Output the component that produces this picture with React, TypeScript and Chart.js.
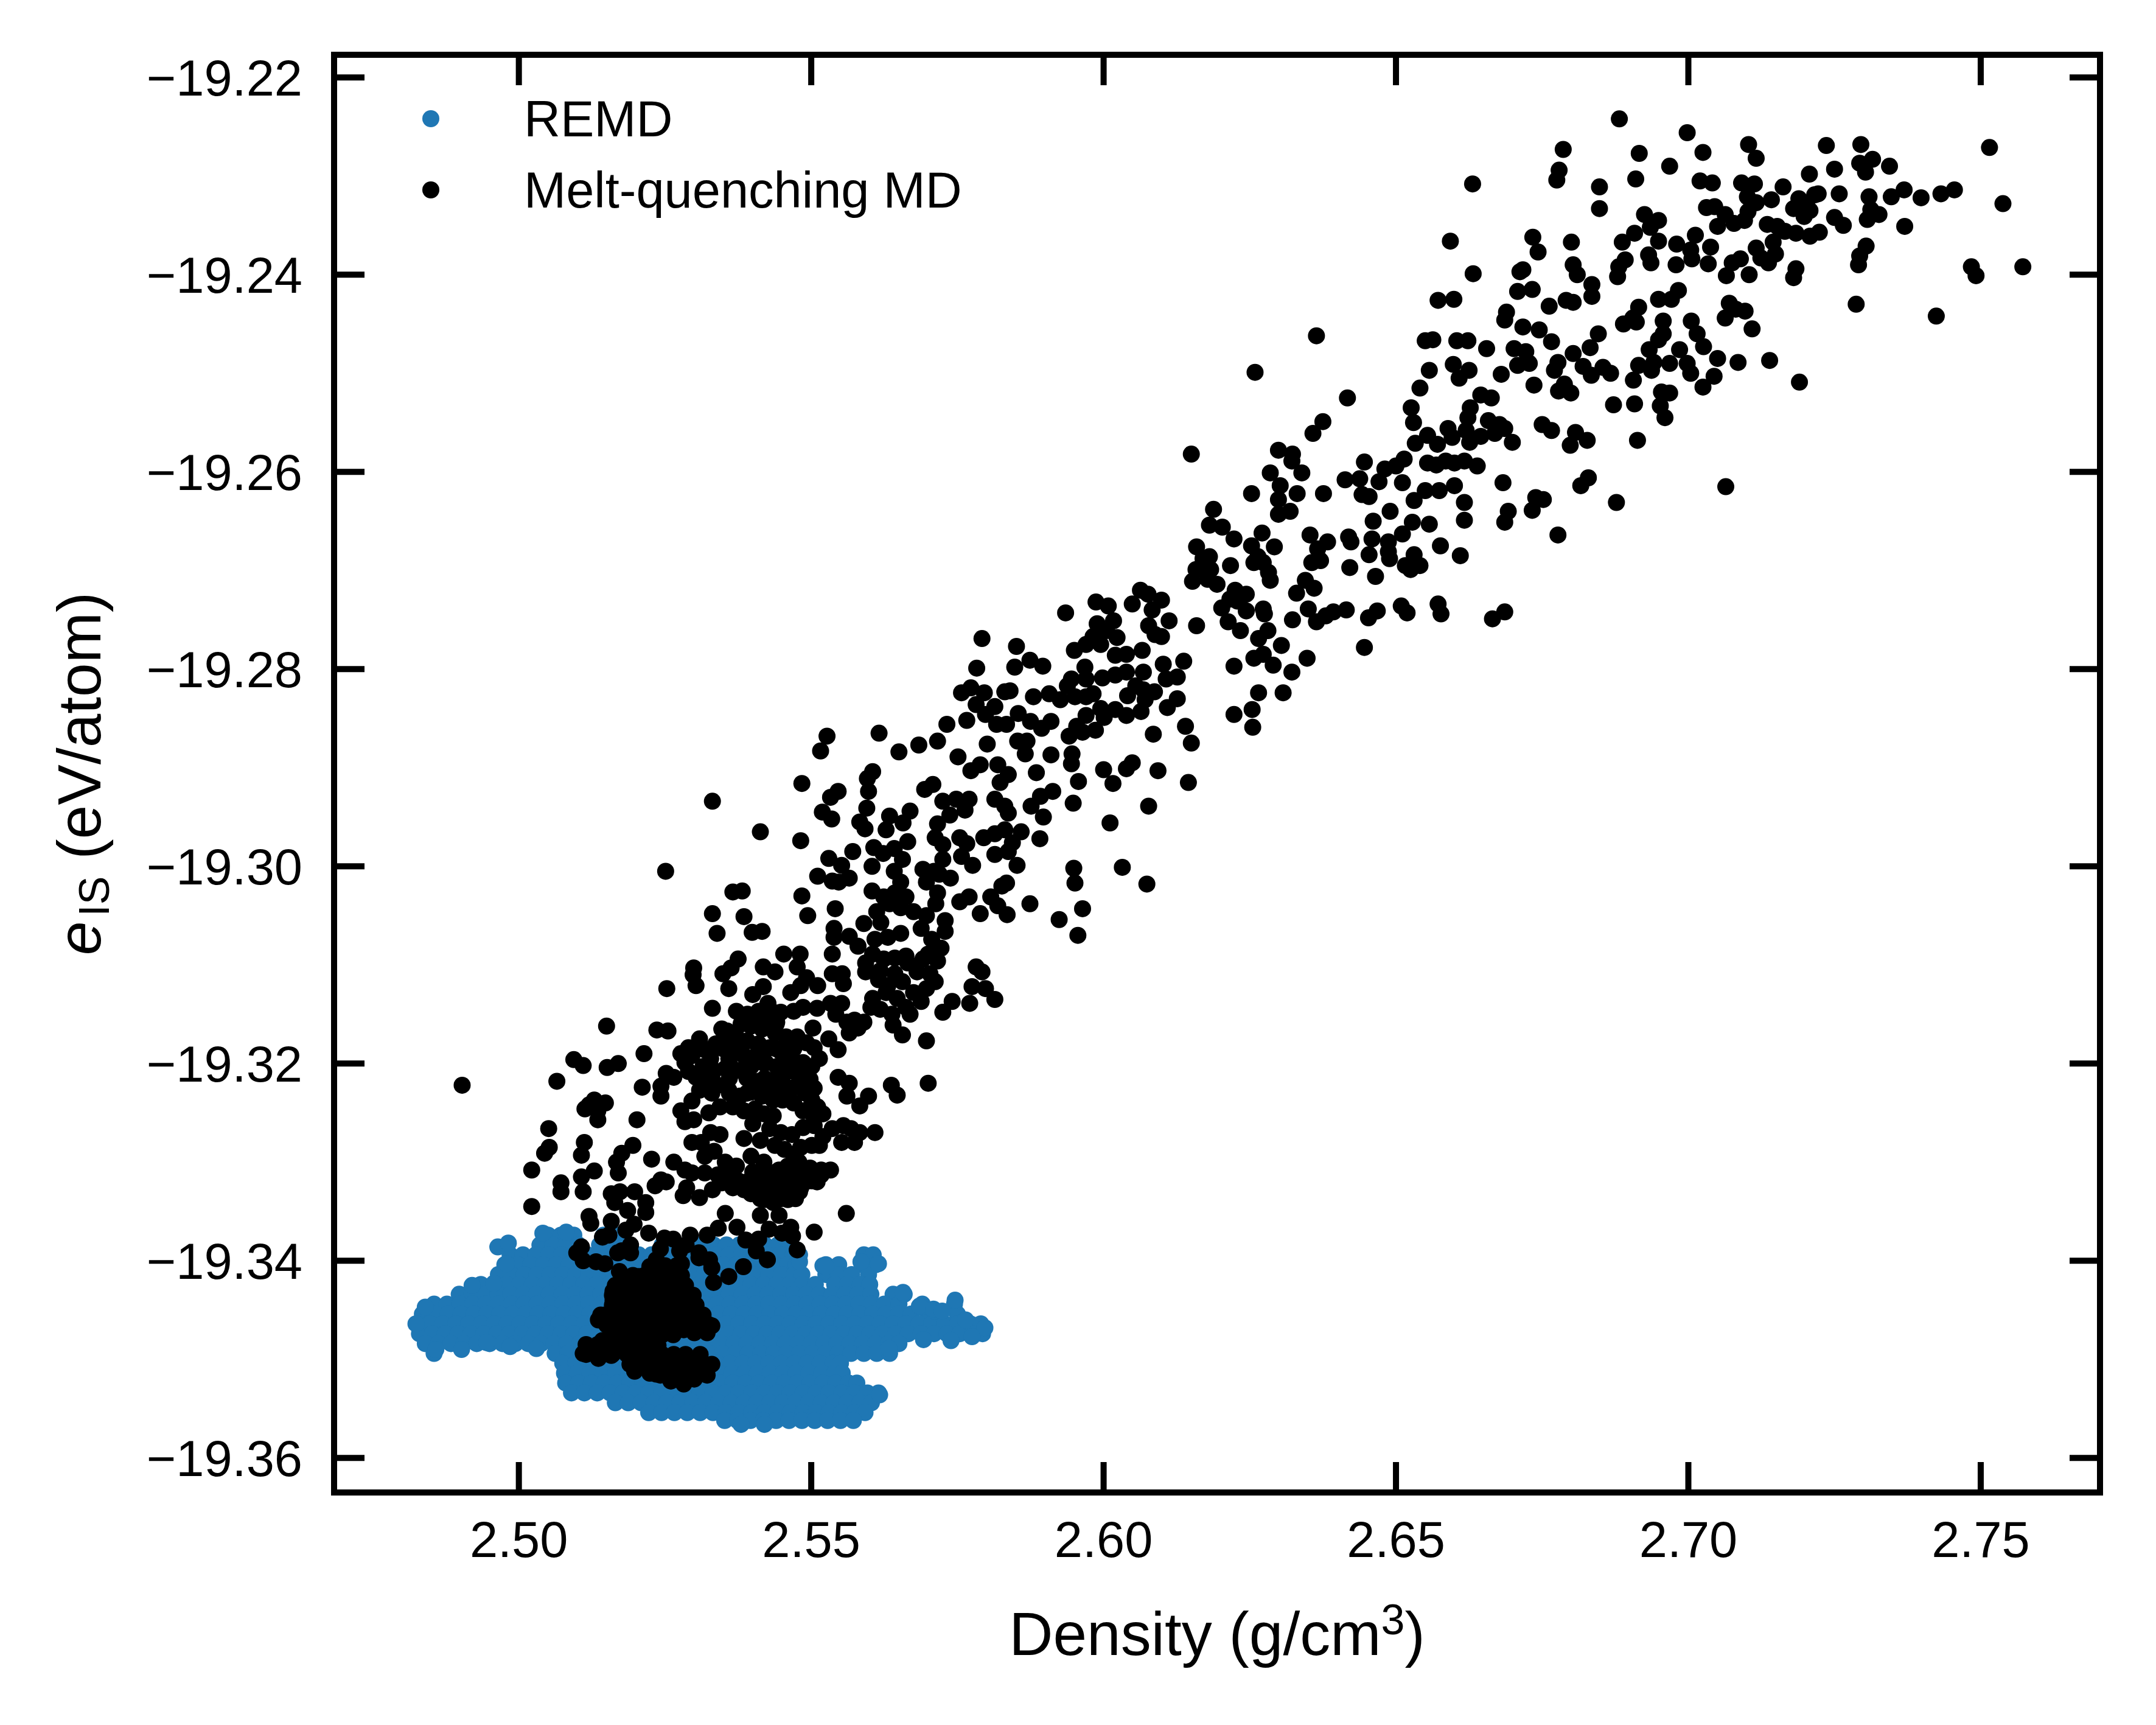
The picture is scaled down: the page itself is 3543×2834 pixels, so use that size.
import { useEffect, useRef } from 'react';
import { Chart, registerables, Plugin } from 'chart.js';

Chart.register(...registerables);

const FONT = '"Liberation Sans", Arial, sans-serif';

// axis ranges and ticks
const densityRange = [2.4684, 2.7704];
const energyRange = [-19.3635, -19.2177];
const densityTicks = [2.5, 2.55, 2.6, 2.65, 2.7, 2.75];
const energyTicks = [-19.22, -19.24, -19.26, -19.28, -19.3, -19.32, -19.34, -19.36];

// melt-quenching MD: upper right part of the band
const meltUpper: [number, number][] = [
  [2.6882,-19.2242],[2.6998,-19.2256],[2.6786,-19.2273],[2.6916,-19.2277],[2.7025,-19.2276],[2.7103,-19.2268],[2.7116,-19.2282],[2.7236,-19.2269],[2.7295,-19.2268],[2.7515,-19.2271],
  [2.6779,-19.2294],[2.6775,-19.2304],[2.6848,-19.2311],[2.6910,-19.2303],[2.6968,-19.2290],[2.7020,-19.2305],[2.7041,-19.2307],[2.7091,-19.2307],[2.7113,-19.2308],[2.7162,-19.2311],
  [2.7207,-19.2298],[2.7250,-19.2293],[2.7293,-19.2287],[2.7315,-19.2283],[2.7303,-19.2296],[2.7344,-19.2290],[2.6848,-19.2333],[2.6925,-19.2339],[2.6949,-19.2345],[2.6935,-19.2352],
  [2.7031,-19.2332],[2.7045,-19.2331],[2.7063,-19.2339],[2.7050,-19.2351],[2.7078,-19.2348],[2.7096,-19.2345],[2.7101,-19.2321],[2.7116,-19.2327],[2.7102,-19.2336],[2.7142,-19.2324],
  [2.7180,-19.2333],[2.7189,-19.2323],[2.7202,-19.2328],[2.7216,-19.2319],[2.7222,-19.2318],[2.7208,-19.2335],[2.7198,-19.2341],[2.7258,-19.2318],[2.7250,-19.2342],[2.7265,-19.2350],
  [2.7309,-19.2321],[2.7312,-19.2334],[2.7306,-19.2344],[2.7326,-19.2339],[2.7347,-19.2321],[2.7369,-19.2314],[2.7398,-19.2322],[2.7432,-19.2318],[2.7455,-19.2314],[2.7538,-19.2328],
  [2.7370,-19.2351],[2.7135,-19.2349],[2.7152,-19.2351],[2.7165,-19.2356],[2.7184,-19.2358],[2.7208,-19.2361],[2.7224,-19.2357],[2.6734,-19.2362],[2.6743,-19.2377],[2.6800,-19.2367],
  [2.6887,-19.2367],[2.6908,-19.2358],[2.6949,-19.2366],[2.6932,-19.2380],[2.6936,-19.2388],[2.6892,-19.2385],[2.6881,-19.2392],[2.6879,-19.2402],[2.6803,-19.2390],[2.6810,-19.2400],
  [2.6980,-19.2369],[2.7012,-19.2360],[2.7004,-19.2375],[2.7006,-19.2384],[2.7038,-19.2372],[2.6979,-19.2390],[2.7034,-19.2389],[2.7075,-19.2388],[2.7089,-19.2384],[2.7065,-19.2401],
  [2.7104,-19.2400],[2.7116,-19.2373],[2.7124,-19.2383],[2.7137,-19.2388],[2.7149,-19.2379],[2.7145,-19.2367],[2.7184,-19.2394],[2.7180,-19.2403],[2.7304,-19.2371],[2.7293,-19.2381],
  [2.7291,-19.2390],[2.7484,-19.2392],[2.7492,-19.2401],[2.7572,-19.2392],[2.6717,-19.2395],[2.6733,-19.2415],[2.6835,-19.2410],[2.6835,-19.2422],[2.6762,-19.2432],[2.6791,-19.2426],
  [2.6803,-19.2428],[2.6915,-19.2433],[2.6905,-19.2444],[2.6889,-19.2450],[2.6911,-19.2448],[2.6949,-19.2425],[2.6971,-19.2425],[2.6983,-19.2416],[2.6957,-19.2447],[2.6957,-19.2460],
  [2.6949,-19.2466],[2.6933,-19.2476],[2.7005,-19.2447],[2.7015,-19.2460],[2.7026,-19.2473],[2.6985,-19.2476],[2.6998,-19.2490],[2.7004,-19.2500],[2.7070,-19.2429],[2.7081,-19.2435],
  [2.7097,-19.2437],[2.7063,-19.2444],[2.7109,-19.2455],[2.7287,-19.2430],[2.7424,-19.2442],[2.6717,-19.2453],[2.6745,-19.2456],[2.6766,-19.2468],[2.6846,-19.2460],[2.6832,-19.2474],
  [2.6803,-19.2480],[2.6722,-19.2478],[2.6728,-19.2490],[2.6777,-19.2489],[2.6771,-19.2497],[2.6820,-19.2493],[2.6834,-19.2502],[2.6854,-19.2494],[2.6867,-19.2500],[2.6915,-19.2492],
  [2.6937,-19.2497],[2.6941,-19.2489],[2.6968,-19.2490],[2.6906,-19.2507],[2.7050,-19.2485],[2.7044,-19.2503],[2.7025,-19.2514],[2.7085,-19.2489],[2.7139,-19.2487],[2.7190,-19.2509],
  [2.6736,-19.2512],[2.6788,-19.2511],[2.6778,-19.2518],[2.6799,-19.2520],[2.6954,-19.2519],[2.6968,-19.2520],[2.6952,-19.2533],[2.6960,-19.2545],[2.6872,-19.2532],[2.6908,-19.2531],
  [2.6750,-19.2552],[2.6766,-19.2558],[2.6807,-19.2560],[2.6827,-19.2568],[2.6798,-19.2573],[2.6913,-19.2568],[2.6829,-19.2606],[2.6816,-19.2614],[2.7064,-19.2615],[2.6739,-19.2626],
  [2.6752,-19.2628],[2.6733,-19.2639],[2.6877,-19.2631],[2.6777,-19.2664],
  [2.6631,-19.2308],[2.6593,-19.2366],[2.6632,-19.2399],[2.6712,-19.2397],[2.6708,-19.2417],[2.6572,-19.2426],[2.6599,-19.2425],[2.6689,-19.2438],[2.6686,-19.2446],
];

// melt-quenching MD: middle of the band
const meltMiddle: [number, number][] = [
  [2.6364,-19.2462],[2.6550,-19.2467],[2.6563,-19.2466],[2.6604,-19.2467],[2.6623,-19.2467],[2.6655,-19.2475],[2.6702,-19.2475],[2.6708,-19.2492],[2.6259,-19.2499],[2.6557,-19.2497],
  [2.6598,-19.2491],[2.6625,-19.2497],[2.6608,-19.2505],[2.6680,-19.2501],[2.6541,-19.2515],[2.6417,-19.2525],[2.6645,-19.2522],[2.6663,-19.2525],[2.6627,-19.2535],[2.6623,-19.2545],
  [2.6526,-19.2535],[2.6530,-19.2550],[2.6375,-19.2549],[2.6358,-19.2561],[2.6658,-19.2548],[2.6677,-19.2552],[2.6686,-19.2556],[2.6669,-19.2561],[2.6699,-19.2570],[2.6589,-19.2556],
  [2.6596,-19.2565],[2.6620,-19.2558],[2.6626,-19.2570],[2.6645,-19.2564],[2.6554,-19.2563],[2.6571,-19.2572],[2.6533,-19.2571],[2.6150,-19.2582],[2.6299,-19.2578],[2.6323,-19.2582],
  [2.6322,-19.2589],[2.6339,-19.2601],[2.6285,-19.2601],[2.6446,-19.2590],[2.6514,-19.2587],[2.6500,-19.2594],[2.6481,-19.2597],[2.6554,-19.2591],[2.6569,-19.2593],[2.6585,-19.2589],
  [2.6600,-19.2591],[2.6617,-19.2589],[2.6639,-19.2594],[2.6413,-19.2608],[2.6438,-19.2607],[2.6471,-19.2610],[2.6511,-19.2611],[2.6683,-19.2611],[2.6600,-19.2614],[2.6253,-19.2622],
  [2.6302,-19.2614],[2.6299,-19.2628],[2.6331,-19.2622],[2.6376,-19.2622],[2.6442,-19.2623],[2.6454,-19.2625],[2.6550,-19.2619],[2.6574,-19.2619],[2.6531,-19.2629],[2.6617,-19.2631],
  [2.6490,-19.2640],[2.6299,-19.2643],[2.6319,-19.2640],[2.6188,-19.2638],[2.6181,-19.2654],[2.6203,-19.2656],[2.6461,-19.2650],[2.6528,-19.2651],[2.6557,-19.2653],[2.6617,-19.2649],
  [2.6692,-19.2640],[2.6686,-19.2651],[2.6223,-19.2668],[2.6271,-19.2662],[2.6353,-19.2664],[2.6419,-19.2666],[2.6423,-19.2671],[2.6383,-19.2671],[2.6459,-19.2668],[2.6487,-19.2671],
  [2.6487,-19.2681],[2.6489,-19.2688],[2.6511,-19.2663],[2.6159,-19.2676],[2.6253,-19.2675],[2.6292,-19.2676],[2.6366,-19.2678],[2.6576,-19.2675],[2.6181,-19.2686],[2.6170,-19.2688],
  [2.6217,-19.2695],[2.6264,-19.2686],[2.6257,-19.2692],[2.6273,-19.2692],[2.6454,-19.2684],[2.6531,-19.2684],[2.6610,-19.2685],[2.6158,-19.2699],[2.6183,-19.2699],[2.6356,-19.2692],
  [2.6371,-19.2690],[2.6421,-19.2697],[2.6516,-19.2695],[2.6525,-19.2699],[2.6541,-19.2695],[2.6152,-19.2711],[2.6178,-19.2709],[2.6194,-19.2714],[2.6282,-19.2702],[2.6285,-19.2710],
  [2.6465,-19.2706],[2.6345,-19.2710],[2.6360,-19.2718],[2.6330,-19.2723],[2.6225,-19.2720],[2.6244,-19.2724],[2.6216,-19.2729],[2.6229,-19.2731],[2.6273,-19.2739],[2.6275,-19.2744],
  [2.6244,-19.2741],[2.6202,-19.2738],[2.6213,-19.2752],[2.6234,-19.2761],[2.6159,-19.2756],[2.6323,-19.2750],[2.6350,-19.2739],[2.6364,-19.2752],[2.6380,-19.2746],[2.6393,-19.2742],
  [2.6415,-19.2740],[2.6453,-19.2748],[2.6468,-19.2741],[2.6509,-19.2736],[2.6519,-19.2743],[2.6572,-19.2734],[2.6577,-19.2744],[2.6665,-19.2749],[2.6686,-19.2742],[2.6281,-19.2761],
  [2.6265,-19.2769],[2.6304,-19.2776],[2.6446,-19.2778],[2.6223,-19.2797],[2.6257,-19.2789],[2.6273,-19.2785],[2.6290,-19.2796],[2.6322,-19.2803],[2.6348,-19.2789],[2.6265,-19.2824],
  [2.6307,-19.2824],[2.6223,-19.2846],[2.6254,-19.2841],[2.6255,-19.2859],
  [2.6063,-19.2720],[2.6076,-19.2724],[2.5987,-19.2732],[2.6008,-19.2736],[2.6049,-19.2734],[2.6099,-19.2730],[2.6083,-19.2740],[2.5935,-19.2743],[2.6112,-19.2751],[2.6077,-19.2756],
  [2.6088,-19.2765],[2.6099,-19.2767],[2.5989,-19.2754],[2.6017,-19.2751],[2.6005,-19.2761],[2.6023,-19.2768],[2.5982,-19.2767],[2.5851,-19.2777],[2.5950,-19.2781],[2.5970,-19.2775],
  [2.5995,-19.2775],[2.6066,-19.2781],[2.6020,-19.2786],[2.6039,-19.2785],[2.5874,-19.2791],[2.5896,-19.2797],[2.5848,-19.2798],[2.5968,-19.2798],[2.5970,-19.2810],[2.5998,-19.2809],
  [2.6020,-19.2806],[2.6039,-19.2803],[2.6068,-19.2803],[2.6102,-19.2795],[2.6137,-19.2792],[2.6107,-19.2810],[2.6126,-19.2808],[2.5945,-19.2810],[2.5938,-19.2817],[2.5840,-19.2822],
  [2.5880,-19.2828],[2.5907,-19.2825],[2.5926,-19.2831],[2.5951,-19.2828],[2.5970,-19.2828],[2.5982,-19.2825],[2.6041,-19.2827],[2.6055,-19.2817],[2.6068,-19.2821],[2.6087,-19.2823],
  [2.6071,-19.2831],[2.6126,-19.2830],[2.6109,-19.2839],[2.5995,-19.2840],[2.6020,-19.2841],[2.6039,-19.2847],[2.6064,-19.2843],[2.6001,-19.2849],[2.5854,-19.2845],[2.5875,-19.2853],
  [2.5894,-19.2860],[2.5910,-19.2853],[2.5834,-19.2856],[2.5970,-19.2847],[2.5954,-19.2858],[2.5964,-19.2864],[2.5986,-19.2862],[2.5941,-19.2868],[2.6140,-19.2858],[2.6085,-19.2866],
  [2.6150,-19.2875],[2.5853,-19.2873],[2.5869,-19.2873],[2.5866,-19.2886],[2.5910,-19.2887],[2.5946,-19.2886],[2.5945,-19.2896],[2.5885,-19.2905],[2.6000,-19.2902],[2.6016,-19.2916],
  [2.6039,-19.2901],[2.6049,-19.2895],[2.6093,-19.2903],[2.5957,-19.2914],[2.6145,-19.2915],[2.5837,-19.2907],[2.5913,-19.2924],[2.5892,-19.2929],[2.5876,-19.2939],[2.5897,-19.2950],
  [2.5948,-19.2936],[2.6077,-19.2939],[2.6011,-19.2956],[2.5837,-19.2946],[2.5859,-19.2965],[2.5844,-19.2976],[2.5891,-19.2972],[2.5852,-19.2999],[2.5837,-19.2985],[2.5949,-19.3002],
  [2.5951,-19.3017],[2.6032,-19.3001],[2.6074,-19.3018],[2.5874,-19.3038],[2.5964,-19.3043],[2.5834,-19.3017],
  [2.5956,-19.3070],[2.5924,-19.3054],[2.5835,-19.3049],
];

// melt-quenching MD: lower left part of the band
const meltLower: [number, number][] = [
  [2.5792,-19.2769],[2.5783,-19.2799],[2.5757,-19.2824],[2.5773,-19.2819],[2.5796,-19.2824],[2.5782,-19.2836],[2.5814,-19.2838],[2.5798,-19.2846],[2.5766,-19.2852],[2.5817,-19.2856],
  [2.5831,-19.2823],[2.5732,-19.2856],[2.5801,-19.2876],[2.5716,-19.2873],[2.5684,-19.2877],[2.5650,-19.2884],[2.5616,-19.2865],[2.5527,-19.2868],[2.5516,-19.2883],[2.5751,-19.2889],
  [2.5789,-19.2897],[2.5773,-19.2903],[2.5819,-19.2897],[2.5823,-19.2915],[2.5484,-19.2916],[2.5605,-19.2904],[2.5596,-19.2911],[2.5598,-19.2924],[2.5546,-19.2924],[2.5533,-19.2930],
  [2.5694,-19.2922],[2.5708,-19.2917],[2.5725,-19.2934],[2.5748,-19.2932],[2.5770,-19.2932],[2.5763,-19.2943],[2.5737,-19.2948],[2.5814,-19.2932],[2.5831,-19.2939],[2.5331,-19.2934],
  [2.5413,-19.2965],[2.5482,-19.2974],[2.5519,-19.2945],[2.5535,-19.2952],[2.5595,-19.2941],[2.5583,-19.2955],[2.5592,-19.2962],[2.5634,-19.2949],[2.5657,-19.2956],[2.5669,-19.2944],
  [2.5628,-19.2963],[2.5665,-19.2975],[2.5716,-19.2957],[2.5712,-19.2971],[2.5725,-19.2978],[2.5754,-19.2971],[2.5766,-19.2977],[2.5795,-19.2971],[2.5814,-19.2967],[2.5831,-19.2963],
  [2.5814,-19.2988],[2.5757,-19.2990],[2.5776,-19.2999],[2.5725,-19.2993],[2.5738,-19.3012],[2.5719,-19.3008],[2.5691,-19.3003],[2.5697,-19.3016],[2.5710,-19.3005],[2.5571,-19.2985],
  [2.5607,-19.2981],[2.5623,-19.2987],[2.5642,-19.2982],[2.5656,-19.2993],[2.5530,-19.2992],[2.5552,-19.2999],[2.5604,-19.3000],[2.5642,-19.3005],[2.5653,-19.3016],[2.5511,-19.3010],
  [2.5536,-19.3015],[2.5547,-19.3016],[2.5565,-19.3012],[2.5604,-19.3025],[2.5624,-19.3031],[2.5643,-19.3027],[2.5662,-19.3031],[2.5634,-19.3038],[2.5653,-19.3042],[2.5675,-19.3046],
  [2.5697,-19.3050],[2.5713,-19.3038],[2.5729,-19.3055],[2.5716,-19.3027],[2.5754,-19.3036],[2.5770,-19.3031],[2.5789,-19.3048],[2.5807,-19.3031],[2.5826,-19.3020],[2.5819,-19.3040],
  [2.5251,-19.3005],[2.5366,-19.3026],[2.5382,-19.3025],[2.5484,-19.3030],[2.5541,-19.3043],[2.5494,-19.3050],[2.5331,-19.3048],[2.5385,-19.3051],[2.5339,-19.3068],[2.5399,-19.3067],
  [2.5416,-19.3066],[2.5539,-19.3063],[2.5590,-19.3058],[2.5612,-19.3046],[2.5619,-19.3057],[2.5609,-19.3074],[2.5631,-19.3072],[2.5653,-19.3068],[2.5688,-19.3063],[2.5706,-19.3074],
  [2.5729,-19.3066],[2.5722,-19.3083],[2.5700,-19.3089],[2.5716,-19.3096],[2.5539,-19.3072],[2.5565,-19.3071],[2.5536,-19.3089],[2.5580,-19.3081],[2.5605,-19.3089],[2.5624,-19.3094],
  [2.5643,-19.3093],[2.5662,-19.3091],[2.5593,-19.3098],[2.5593,-19.3107],[2.5618,-19.3106],[2.5643,-19.3109],[2.5665,-19.3098],[2.5691,-19.3094],[2.5681,-19.3107],[2.5703,-19.3109],
  [2.5712,-19.3117],[2.5697,-19.3124],[2.5675,-19.3128],[2.5656,-19.3117],[2.5631,-19.3121],[2.5615,-19.3115],[2.5628,-19.3128],[2.5647,-19.3134],[2.5662,-19.3143],[2.5688,-19.3137],
  [2.5782,-19.3102],[2.5792,-19.3107],[2.5775,-19.3122],[2.5798,-19.3124],[2.5814,-19.3135],[2.5771,-19.3139],[2.5741,-19.3137],[2.5725,-19.3148],[2.5697,-19.3177],[2.5700,-19.3220],
  [2.5453,-19.3089],[2.5481,-19.3089],[2.5476,-19.3102],[2.5418,-19.3102],[2.5438,-19.3107],[2.5536,-19.3109],[2.5553,-19.3109],[2.5555,-19.3119],[2.5511,-19.3121],[2.5492,-19.3113],
  [2.5482,-19.3121],[2.5465,-19.3128],[2.5375,-19.3094],[2.5363,-19.3103],[2.5349,-19.3109],[2.5359,-19.3124],[2.5299,-19.3103],[2.5298,-19.3110],[2.5303,-19.3121],[2.5253,-19.3124],
  [2.5331,-19.3144],[2.5400,-19.3130],[2.5418,-19.3122],[2.5429,-19.3145],[2.5448,-19.3148],[2.5470,-19.3147],[2.5486,-19.3143],[2.5510,-19.3144],[2.5533,-19.3139],[2.5552,-19.3139],
  [2.5542,-19.3150],[2.5561,-19.3158],[2.5574,-19.3156],[2.5590,-19.3158],[2.5605,-19.3134],[2.5602,-19.3143],[2.5618,-19.3145],[2.5638,-19.3150],[2.5640,-19.3161],[2.5656,-19.3171],
  [2.5669,-19.3150],[2.5503,-19.3164],[2.5530,-19.3175],[2.5546,-19.3186],[2.5565,-19.3169],[2.5580,-19.3164],[2.5150,-19.3162],[2.5236,-19.3166],[2.5255,-19.3167],[2.5214,-19.3190],
  [2.5094,-19.3196],[2.5110,-19.3202],[2.5151,-19.3204],[2.5170,-19.3200],[2.5065,-19.3218],[2.4903,-19.3222],[2.5211,-19.3224],[2.5243,-19.3223],[2.5252,-19.3210],[2.5265,-19.3214],
  [2.5243,-19.3233],[2.5372,-19.3147],[2.5391,-19.3150],[2.5410,-19.3147],[2.5426,-19.3139],[2.5441,-19.3158],[2.5397,-19.3162],[2.5416,-19.3165],[2.5438,-19.3169],[2.5457,-19.3173],
  [2.5476,-19.3173],[2.5492,-19.3179],[2.5505,-19.3184],[2.5514,-19.3195],[2.5501,-19.3203],[2.5486,-19.3199],[2.5467,-19.3195],[2.5448,-19.3188],[2.5429,-19.3184],[2.5410,-19.3180],
  [2.5391,-19.3177],[2.5372,-19.3173],[2.5356,-19.3167],[2.5347,-19.3165],[2.5309,-19.3175],[2.5290,-19.3184],[2.5277,-19.3190],[2.5296,-19.3192],[2.5318,-19.3186],[2.5337,-19.3180],
  [2.5353,-19.3179],[2.5369,-19.3186],[2.5385,-19.3192],[2.5404,-19.3195],[2.5422,-19.3199],[2.5441,-19.3203],[2.5460,-19.3208],[2.5479,-19.3212],[2.5498,-19.3216],[2.5505,-19.3225],
  [2.5501,-19.3237],[2.5511,-19.3244],[2.5520,-19.3251],[2.5505,-19.3255],[2.5486,-19.3248],[2.5470,-19.3240],[2.5451,-19.3237],[2.5435,-19.3237],[2.5416,-19.3233],[2.5397,-19.3229],
  [2.5378,-19.3233],[2.5359,-19.3227],[2.5340,-19.3222],[2.5322,-19.3218],[2.5303,-19.3214],[2.5290,-19.3208],[2.5284,-19.3199],[2.5315,-19.3203],[2.5334,-19.3207],[2.5353,-19.3205],
  [2.5372,-19.3207],[2.5391,-19.3212],[2.5410,-19.3218],[2.5429,-19.3223],[2.5448,-19.3225],[2.5467,-19.3225],[2.5486,-19.3225],[2.5438,-19.3216],[2.5397,-19.3203],[2.5359,-19.3195],
  [2.5328,-19.3195],[2.5309,-19.3227],[2.5296,-19.3238],[2.5277,-19.3248],[2.5284,-19.3259],[2.5299,-19.3257],[2.5325,-19.3250],[2.5344,-19.3244],[2.5366,-19.3244],[2.5385,-19.3248],
  [2.5404,-19.3246],[2.5419,-19.3251],[2.5435,-19.3253],[2.5429,-19.3266],[2.5448,-19.3270],[2.5467,-19.3272],[2.5486,-19.3265],[2.5505,-19.3263],[2.5520,-19.3274],[2.5514,-19.3283],
  [2.5501,-19.3283],[2.5482,-19.3285],[2.5470,-19.3293],[2.5454,-19.3287],[2.5438,-19.3283],[2.5413,-19.3278],[2.5400,-19.3261],[2.5385,-19.3276],[2.5397,-19.3294],[2.5419,-19.3300],
  [2.5445,-19.3308],[2.5460,-19.3304],[2.5479,-19.3300],[2.5498,-19.3306],[2.5517,-19.3308],[2.5533,-19.3308],[2.5473,-19.3317],[2.5457,-19.3321],[2.5441,-19.3326],[2.5429,-19.3332],
  [2.5448,-19.3337],[2.5467,-19.3332],[2.5482,-19.3326],[2.5501,-19.3319],[2.5517,-19.3313],[2.5473,-19.3337],[2.5435,-19.3341],[2.5413,-19.3337],[2.5397,-19.3332],[2.5385,-19.3328],
  [2.5375,-19.3319],[2.5359,-19.3311],[2.5353,-19.3300],[2.5372,-19.3304],[2.5334,-19.3289],[2.5318,-19.3294],[2.5312,-19.3280],[2.5296,-19.3280],[2.5328,-19.3270],[2.5344,-19.3272],
  [2.5284,-19.3308],[2.5296,-19.3311],[2.5318,-19.3311],[2.5340,-19.3313],[2.5366,-19.3326],[2.5287,-19.3326],[2.5309,-19.3336],[2.5331,-19.3328],[2.5347,-19.3321],[2.5265,-19.3300],
  [2.5252,-19.3320],[2.5233,-19.3324],[2.5243,-19.3318],[2.5227,-19.3297],[2.5195,-19.3283],[2.5176,-19.3291],[2.5167,-19.3300],[2.5170,-19.3311],[2.5129,-19.3309],[2.5107,-19.3315],
  [2.5110,-19.3330],[2.5072,-19.3321],[2.5072,-19.3330],[2.5022,-19.3308],[2.5044,-19.3291],[2.5052,-19.3285],[2.5051,-19.3266],[2.5112,-19.3280],[2.5107,-19.3293],[2.5202,-19.3257],
  [2.5158,-19.3332],[2.5173,-19.3330],[2.5198,-19.3330],[2.5164,-19.3341],[2.5186,-19.3349],[2.5217,-19.3341],[2.5217,-19.3351],[2.5281,-19.3334],[2.5022,-19.3345],[2.5120,-19.3355],
  [2.5353,-19.3352],[2.5413,-19.3354],[2.5445,-19.3354],[2.5560,-19.3352],
  [2.5536,-19.3266],[2.5555,-19.3263],[2.5568,-19.3266],[2.5583,-19.3270],[2.5609,-19.3270],[2.5574,-19.3280],[2.5552,-19.3280],[2.5546,-19.3214],[2.5565,-19.3220],[2.5561,-19.3233],
  [2.5583,-19.3243],[2.5598,-19.3233],[2.5637,-19.3222],[2.5647,-19.3232],
  [2.5129,-19.3237],[2.5120,-19.3242],[2.5135,-19.3248],[2.5148,-19.3240],[2.5135,-19.3257],[2.5113,-19.3246],
];

// melt-quenching MD: points sitting on the REMD cloud
const meltBase: [number, number][] = [
  [2.5123,-19.3362],[2.5158,-19.3360],[2.5197,-19.3363],[2.5222,-19.3372],[2.5154,-19.3374],[2.5143,-19.3376],[2.5183,-19.3369],[2.5191,-19.3384],[2.5176,-19.3390],[2.5191,-19.3392],
  [2.5107,-19.3386],[2.5099,-19.3392],[2.5110,-19.3400],[2.5132,-19.3401],[2.5147,-19.3403],[2.5172,-19.3411],[2.5169,-19.3392],[2.5205,-19.3416],[2.5220,-19.3425],[2.5249,-19.3377],
  [2.5264,-19.3378],[2.5293,-19.3374],[2.5286,-19.3384],[2.5275,-19.3390],[2.5308,-19.3392],[2.5322,-19.3374],[2.5341,-19.3367],[2.5373,-19.3366],[2.5388,-19.3379],[2.5410,-19.3378],
  [2.5406,-19.3390],[2.5428,-19.3368],[2.5450,-19.3372],[2.5465,-19.3366],[2.5468,-19.3375],[2.5476,-19.3389],[2.5505,-19.3371],[2.5425,-19.3399],[2.5384,-19.3406],[2.5359,-19.3416],
  [2.5333,-19.3422],[2.5330,-19.3407],[2.5326,-19.3399],[2.5308,-19.3397],[2.5242,-19.3388],[2.5235,-19.3399],[2.5224,-19.3406],[2.5253,-19.3411],[2.5278,-19.3403],[2.5264,-19.3418],
  [2.5249,-19.3425],[2.5275,-19.3427],[2.5286,-19.3436],[2.5297,-19.3447],[2.5278,-19.3455],[2.5256,-19.3447],[2.5238,-19.3438],[2.5220,-19.3434],[2.5205,-19.3427],[2.5180,-19.3427],
  [2.5161,-19.3431],[2.5161,-19.3440],[2.5176,-19.3447],[2.5194,-19.3438],[2.5213,-19.3447],[2.5147,-19.3455],[2.5136,-19.3460],[2.5169,-19.3460],[2.5191,-19.3455],[2.5220,-19.3455],
  [2.5242,-19.3460],[2.5264,-19.3455],[2.5293,-19.3457],[2.5315,-19.3462],[2.5330,-19.3466],[2.5322,-19.3473],[2.5300,-19.3473],[2.5282,-19.3470],[2.5264,-19.3475],[2.5242,-19.3468],
  [2.5213,-19.3466],[2.5191,-19.3468],[2.5176,-19.3477],[2.5191,-19.3483],[2.5213,-19.3481],[2.5238,-19.3486],[2.5161,-19.3486],[2.5143,-19.3481],[2.5125,-19.3488],[2.5110,-19.3494],
  [2.5136,-19.3499],[2.5158,-19.3496],[2.5187,-19.3494],[2.5205,-19.3496],[2.5194,-19.3505],[2.5198,-19.3512],[2.5220,-19.3509],[2.5242,-19.3501],[2.5264,-19.3499],[2.5286,-19.3499],
  [2.5308,-19.3505],[2.5322,-19.3509],[2.5322,-19.3516],[2.5300,-19.3520],[2.5282,-19.3525],[2.5260,-19.3522],[2.5242,-19.3516],[2.5249,-19.3509],[2.5224,-19.3514],
];

// melt-quenching MD: solid clumps where the markers pile up
const meltCore: [number, number][] = [
  [2.5230,-19.3405],[2.5250,-19.3405],[2.5270,-19.3405],
  [2.5195,-19.3415],[2.5215,-19.3415],[2.5235,-19.3415],[2.5255,-19.3415],[2.5278,-19.3415],
  [2.5165,-19.3425],[2.5185,-19.3425],[2.5205,-19.3425],[2.5225,-19.3425],[2.5245,-19.3425],[2.5265,-19.3425],[2.5285,-19.3425],
  [2.5160,-19.3435],[2.5180,-19.3435],[2.5200,-19.3435],[2.5220,-19.3435],[2.5240,-19.3435],[2.5260,-19.3435],[2.5280,-19.3435],[2.5298,-19.3435],
  [2.5160,-19.3445],[2.5180,-19.3445],[2.5200,-19.3445],[2.5220,-19.3445],[2.5240,-19.3445],[2.5260,-19.3445],[2.5280,-19.3445],[2.5303,-19.3445],
  [2.5140,-19.3455],[2.5160,-19.3455],[2.5180,-19.3455],[2.5200,-19.3455],[2.5220,-19.3455],[2.5240,-19.3455],[2.5260,-19.3455],[2.5280,-19.3455],[2.5300,-19.3455],[2.5315,-19.3455],
  [2.5150,-19.3465],[2.5170,-19.3465],[2.5190,-19.3465],[2.5210,-19.3465],[2.5230,-19.3465],[2.5250,-19.3465],[2.5270,-19.3465],[2.5290,-19.3465],[2.5310,-19.3465],[2.5325,-19.3465],
  [2.5160,-19.3475],[2.5180,-19.3475],[2.5200,-19.3475],[2.5222,-19.3475],[2.5245,-19.3475],
  [2.5115,-19.3485],[2.5135,-19.3485],[2.5155,-19.3485],[2.5175,-19.3485],[2.5195,-19.3485],[2.5215,-19.3485],[2.5230,-19.3485],
  [2.5115,-19.3495],[2.5140,-19.3495],[2.5160,-19.3495],[2.5185,-19.3495],[2.5205,-19.3495],[2.5225,-19.3495],[2.5245,-19.3495],[2.5265,-19.3495],[2.5285,-19.3495],[2.5310,-19.3495],
  [2.5190,-19.3505],[2.5210,-19.3505],[2.5230,-19.3505],[2.5250,-19.3505],[2.5270,-19.3505],[2.5290,-19.3505],[2.5310,-19.3505],[2.5330,-19.3505],
  [2.5235,-19.3515],[2.5255,-19.3515],[2.5275,-19.3515],[2.5295,-19.3515],[2.5318,-19.3515],
  [2.5400,-19.3310],[2.5420,-19.3310],[2.5440,-19.3310],[2.5460,-19.3310],[2.5480,-19.3310],[2.5500,-19.3310],
  [2.5390,-19.3320],[2.5410,-19.3320],[2.5430,-19.3320],[2.5450,-19.3320],[2.5470,-19.3320],[2.5490,-19.3320],[2.5510,-19.3320],
  [2.5400,-19.3330],[2.5420,-19.3330],[2.5440,-19.3330],[2.5460,-19.3330],[2.5480,-19.3330],
  [2.5420,-19.3338],[2.5440,-19.3338],[2.5460,-19.3338],
  [2.5380,-19.3160],[2.5400,-19.3160],[2.5420,-19.3160],[2.5440,-19.3160],
  [2.5350,-19.3185],[2.5380,-19.3185],[2.5410,-19.3185],[2.5440,-19.3185],[2.5470,-19.3185],
  [2.5360,-19.3200],[2.5390,-19.3200],[2.5420,-19.3200],[2.5450,-19.3200],[2.5480,-19.3200],
  [2.5330,-19.3215],[2.5360,-19.3215],[2.5390,-19.3215],[2.5420,-19.3215],[2.5450,-19.3215],[2.5480,-19.3215],
  [2.5330,-19.3230],[2.5360,-19.3230],[2.5390,-19.3230],[2.5420,-19.3230],[2.5460,-19.3230],[2.5490,-19.3230],
];

// REMD cloud, read row by row: [energy, densities along that row]
const remdRows: [number, number[]][] = [
  [-19.3374, [2.5050, 2.5072, 2.5094, 2.5145, 2.5167]],
  [-19.3384, [2.5036, 2.5058, 2.5080, 2.5102, 2.5138, 2.5160, 2.5182, 2.5245, 2.5267, 2.5289, 2.5311, 2.5333, 2.5355, 2.5377, 2.5399, 2.5421, 2.5443, 2.5462]],
  [-19.3394, [2.4985, 2.5007, 2.5029, 2.5051, 2.5073, 2.5095, 2.5117, 2.5139, 2.5161, 2.5183, 2.5205, 2.5227, 2.5249, 2.5271, 2.5293, 2.5315, 2.5337, 2.5359, 2.5381, 2.5403, 2.5425, 2.5447, 2.5469, 2.5480, 2.5590, 2.5606]],
  [-19.3404, [2.4976, 2.4998, 2.5020, 2.5042, 2.5064, 2.5086, 2.5108, 2.5130, 2.5152, 2.5174, 2.5196, 2.5218, 2.5240, 2.5262, 2.5284, 2.5306, 2.5328, 2.5350, 2.5372, 2.5394, 2.5416, 2.5438, 2.5460, 2.5474, 2.5525, 2.5547, 2.5588, 2.5610]],
  [-19.3414, [2.4965, 2.4987, 2.5009, 2.5031, 2.5053, 2.5075, 2.5097, 2.5119, 2.5141, 2.5163, 2.5185, 2.5207, 2.5229, 2.5251, 2.5273, 2.5295, 2.5317, 2.5339, 2.5361, 2.5383, 2.5405, 2.5427, 2.5449, 2.5471, 2.5484, 2.5525, 2.5547, 2.5569, 2.5598]],
  [-19.3424, [2.4935, 2.4957, 2.4979, 2.5001, 2.5023, 2.5045, 2.5067, 2.5089, 2.5111, 2.5133, 2.5155, 2.5177, 2.5199, 2.5221, 2.5243, 2.5265, 2.5287, 2.5309, 2.5331, 2.5353, 2.5375, 2.5397, 2.5419, 2.5441, 2.5463, 2.5485, 2.5507, 2.5540, 2.5562, 2.5584, 2.5600]],
  [-19.3434, [2.4898, 2.4920, 2.4942, 2.4964, 2.4986, 2.5008, 2.5030, 2.5052, 2.5074, 2.5096, 2.5118, 2.5140, 2.5162, 2.5184, 2.5206, 2.5228, 2.5250, 2.5272, 2.5294, 2.5316, 2.5338, 2.5360, 2.5382, 2.5404, 2.5426, 2.5448, 2.5470, 2.5492, 2.5514, 2.5536, 2.5558, 2.5580, 2.5602, 2.5640]],
  [-19.3444, [2.4855, 2.4877, 2.4899, 2.4921, 2.4943, 2.4965, 2.4987, 2.5009, 2.5031, 2.5053, 2.5075, 2.5097, 2.5119, 2.5141, 2.5163, 2.5185, 2.5207, 2.5229, 2.5251, 2.5273, 2.5295, 2.5317, 2.5339, 2.5361, 2.5383, 2.5405, 2.5427, 2.5449, 2.5471, 2.5493, 2.5515, 2.5537, 2.5559, 2.5581, 2.5603, 2.5625, 2.5650, 2.5690, 2.5745]],
  [-19.3454, [2.4835, 2.4857, 2.4879, 2.4901, 2.4923, 2.4945, 2.4967, 2.4989, 2.5011, 2.5033, 2.5055, 2.5077, 2.5099, 2.5121, 2.5143, 2.5165, 2.5187, 2.5209, 2.5231, 2.5253, 2.5275, 2.5297, 2.5319, 2.5341, 2.5363, 2.5385, 2.5407, 2.5429, 2.5451, 2.5473, 2.5495, 2.5517, 2.5539, 2.5561, 2.5583, 2.5605, 2.5627, 2.5649, 2.5671, 2.5700, 2.5750]],
  [-19.3464, [2.4826, 2.4848, 2.4870, 2.4892, 2.4914, 2.4936, 2.4958, 2.4980, 2.5002, 2.5024, 2.5046, 2.5068, 2.5090, 2.5112, 2.5134, 2.5156, 2.5178, 2.5200, 2.5222, 2.5244, 2.5266, 2.5288, 2.5310, 2.5332, 2.5354, 2.5376, 2.5398, 2.5420, 2.5442, 2.5464, 2.5486, 2.5508, 2.5530, 2.5552, 2.5574, 2.5596, 2.5618, 2.5640, 2.5662, 2.5684, 2.5706, 2.5728, 2.5750, 2.5772, 2.5790]],
  [-19.3474, [2.4830, 2.4852, 2.4874, 2.4896, 2.4918, 2.4940, 2.4962, 2.4984, 2.5006, 2.5028, 2.5050, 2.5072, 2.5094, 2.5116, 2.5138, 2.5160, 2.5182, 2.5204, 2.5226, 2.5248, 2.5270, 2.5292, 2.5314, 2.5336, 2.5358, 2.5380, 2.5402, 2.5424, 2.5446, 2.5468, 2.5490, 2.5512, 2.5534, 2.5556, 2.5578, 2.5600, 2.5622, 2.5644, 2.5666, 2.5688, 2.5710, 2.5732, 2.5754, 2.5776, 2.5793]],
  [-19.3484, [2.4840, 2.4862, 2.4884, 2.4906, 2.4928, 2.4950, 2.4972, 2.4994, 2.5016, 2.5038, 2.5060, 2.5082, 2.5104, 2.5126, 2.5148, 2.5170, 2.5192, 2.5214, 2.5236, 2.5258, 2.5280, 2.5302, 2.5324, 2.5346, 2.5368, 2.5390, 2.5412, 2.5434, 2.5456, 2.5478, 2.5500, 2.5522, 2.5544, 2.5566, 2.5588, 2.5610, 2.5632, 2.5650]],
  [-19.3494, [2.5062, 2.5084, 2.5106, 2.5128, 2.5150, 2.5172, 2.5194, 2.5216, 2.5238, 2.5260, 2.5282, 2.5304, 2.5326, 2.5348, 2.5370, 2.5392, 2.5414, 2.5436, 2.5458, 2.5480, 2.5502, 2.5524, 2.5546, 2.5568, 2.5590, 2.5612, 2.5634]],
  [-19.3504, [2.5075, 2.5097, 2.5119, 2.5141, 2.5163, 2.5185, 2.5207, 2.5229, 2.5251, 2.5273, 2.5295, 2.5317, 2.5339, 2.5361, 2.5383, 2.5405, 2.5427, 2.5449, 2.5471, 2.5493, 2.5515, 2.5537, 2.5550]],
  [-19.3514, [2.5078, 2.5100, 2.5122, 2.5144, 2.5166, 2.5188, 2.5210, 2.5232, 2.5254, 2.5276, 2.5298, 2.5320, 2.5342, 2.5364, 2.5386, 2.5408, 2.5430, 2.5452, 2.5474, 2.5496, 2.5518, 2.5540, 2.5553]],
  [-19.3524, [2.5080, 2.5102, 2.5124, 2.5146, 2.5168, 2.5190, 2.5212, 2.5234, 2.5256, 2.5278, 2.5300, 2.5322, 2.5344, 2.5366, 2.5388, 2.5410, 2.5432, 2.5454, 2.5476, 2.5498, 2.5520, 2.5542, 2.5564, 2.5578]],
  [-19.3534, [2.5090, 2.5112, 2.5134, 2.5156, 2.5178, 2.5200, 2.5222, 2.5244, 2.5266, 2.5288, 2.5310, 2.5332, 2.5354, 2.5376, 2.5398, 2.5420, 2.5442, 2.5464, 2.5486, 2.5508, 2.5530, 2.5552, 2.5574, 2.5596, 2.5615]],
  [-19.3544, [2.5165, 2.5187, 2.5209, 2.5231, 2.5253, 2.5275, 2.5297, 2.5319, 2.5341, 2.5363, 2.5385, 2.5407, 2.5429, 2.5451, 2.5473, 2.5495, 2.5517, 2.5539, 2.5561, 2.5583, 2.5603]],
  [-19.3554, [2.5222, 2.5244, 2.5266, 2.5288, 2.5310, 2.5332, 2.5354, 2.5376, 2.5398, 2.5420, 2.5442, 2.5464, 2.5486, 2.5508, 2.5530, 2.5552, 2.5574, 2.5592]],
  [-19.3562, [2.5352, 2.5374, 2.5396, 2.5418, 2.5440, 2.5462, 2.5484, 2.5506, 2.5528, 2.5550, 2.5572]],
];

// REMD stragglers around the edge of the cloud
const remdEdge: [number, number][] = [
  [2.4964,-19.3386],[2.4982,-19.3382],[2.5041,-19.3372],[2.5081,-19.3371],[2.4979,-19.3403],[2.4957,-19.3423],[2.4920,-19.3425],
  [2.4840,-19.3447],[2.4824,-19.3464],[2.4855,-19.3494],[2.4902,-19.3490],[2.4858,-19.3490],[2.4945,-19.3483],[2.4985,-19.3487],[2.5030,-19.3489],
  [2.5688,-19.3447],[2.5710,-19.3451],[2.5746,-19.3440],[2.5764,-19.3460],[2.5797,-19.3468],[2.5775,-19.3477],[2.5739,-19.3481],[2.5692,-19.3480],
  [2.5659,-19.3434],[2.5585,-19.3401],[2.5615,-19.3403],[2.5520,-19.3405],[2.5480,-19.3401],
  [2.5525,-19.3406],[2.5657,-19.3432],[2.5685,-19.3446],[2.5709,-19.3449],[2.5724,-19.3451],[2.5633,-19.3489],[2.5617,-19.3536],
  [2.5380,-19.3566],[2.5420,-19.3566],
];

const meltPoints = [...meltUpper, ...meltMiddle, ...meltLower, ...meltBase, ...meltCore];
const remdPoints: [number, number][] = [
  ...remdRows.flatMap(([e, ds]) => ds.map((d) => [d, e] as [number, number])),
  ...remdEdge,
];

const REMD_COLOR = '#1f77b4';
const MELT_COLOR = '#000000';

const fmtTick = (v: number) => (v < 0 ? '\u2212' + Math.abs(v).toFixed(2) : v.toFixed(2));

// frame, inward ticks, tick labels, axis titles and legend, drawn like matplotlib
const axesPlugin: Plugin = {
  id: 'axesDecor',
  afterDatasetsDraw(chart) {
    const { ctx, chartArea: a, scales } = chart;
    const xs = scales.x;
    const ys = scales.y;
    const tickLen = 50;
    ctx.save();
    ctx.strokeStyle = '#000';
    ctx.fillStyle = '#000';
    ctx.lineWidth = 10;
    ctx.beginPath();
    densityTicks.forEach((v) => {
      const px = xs.getPixelForValue(v);
      ctx.moveTo(px, a.bottom);
      ctx.lineTo(px, a.bottom - tickLen);
      ctx.moveTo(px, a.top);
      ctx.lineTo(px, a.top + tickLen);
    });
    energyTicks.forEach((v) => {
      const py = ys.getPixelForValue(v);
      ctx.moveTo(a.left, py);
      ctx.lineTo(a.left + tickLen, py);
      ctx.moveTo(a.right, py);
      ctx.lineTo(a.right - tickLen, py);
    });
    ctx.stroke();
    ctx.lineJoin = 'miter';
    ctx.strokeRect(a.left, a.top, a.right - a.left, a.bottom - a.top);

    // tick labels
    ctx.font = `83px ${FONT}`;
    ctx.textBaseline = 'alphabetic';
    ctx.textAlign = 'center';
    densityTicks.forEach((v) => {
      ctx.fillText(fmtTick(v), xs.getPixelForValue(v), a.bottom + 106);
    });
    ctx.textAlign = 'right';
    energyTicks.forEach((v) => {
      ctx.fillText(fmtTick(v), a.left - 52, ys.getPixelForValue(v) + 30);
    });

    // x title with superscript
    const big = `100px ${FONT}`;
    const small = `70px ${FONT}`;
    ctx.textAlign = 'left';
    ctx.font = big;
    const t1 = 'Density (g/cm';
    const w1 = ctx.measureText(t1).width;
    const w3 = ctx.measureText(')').width;
    ctx.font = small;
    const w2 = ctx.measureText('3').width;
    let sx = (a.left + a.right) / 2 - (w1 + w2 + w3) / 2;
    const base = a.bottom + 267;
    ctx.font = big;
    ctx.fillText(t1, sx, base);
    sx += w1;
    ctx.font = small;
    ctx.fillText('3', sx, base - 34);
    sx += w2;
    ctx.font = big;
    ctx.fillText(')', sx, base);

    // y title: e_IS (eV/atom), rotated
    ctx.save();
    ctx.translate(a.left - 384, (a.top + a.bottom) / 2);
    ctx.rotate(-Math.PI / 2);
    const italic = `italic 100px ${FONT}`;
    ctx.font = italic;
    const we = ctx.measureText('e').width;
    ctx.font = small;
    const wsub = ctx.measureText('IS').width;
    ctx.font = big;
    const rest = ' (eV/atom)';
    const wr = ctx.measureText(rest).width;
    const gap = 8;
    let tx = -(we + gap + wsub + wr) / 2;
    ctx.font = italic;
    ctx.fillText('e', tx, 0);
    tx += we + gap;
    ctx.font = small;
    ctx.fillText('IS', tx, 14);
    tx += wsub;
    ctx.font = big;
    ctx.fillText(rest, tx, 0);
    ctx.restore();

    // legend
    const entries: [string, string][] = [
      ['REMD', REMD_COLOR],
      ['Melt-quenching MD', MELT_COLOR],
    ];
    ctx.font = `83px ${FONT}`;
    ctx.textAlign = 'left';
    entries.forEach(([label, color], i) => {
      const cy = a.top + 105 + i * 117;
      ctx.fillStyle = color;
      ctx.beginPath();
      ctx.arc(a.left + 159, cy, 14, 0, Math.PI * 2);
      ctx.fill();
      ctx.fillStyle = '#000';
      ctx.fillText(label, a.left + 312, cy + 29);
    });
    ctx.restore();
  },
};

export default function App() {
  const canvasRef = useRef<HTMLCanvasElement>(null);
  const chartRef = useRef<Chart | null>(null);

  useEffect(() => {
    if (!canvasRef.current) return;
    if (chartRef.current) chartRef.current.destroy();

    chartRef.current = new Chart(canvasRef.current, {
      type: 'scatter',
      data: {
        datasets: [
          {
            label: 'Melt-quenching MD',
            data: meltPoints.map(([x, y]) => ({ x, y })),
            backgroundColor: MELT_COLOR,
            borderColor: MELT_COLOR,
            order: 0,
          },
          {
            label: 'REMD',
            data: remdPoints.map(([x, y]) => ({ x, y })),
            backgroundColor: REMD_COLOR,
            borderColor: REMD_COLOR,
            order: 1,
          },
        ],
      },
      options: {
        animation: false,
        responsive: true,
        maintainAspectRatio: false,
        devicePixelRatio: 1,
        events: [],
        layout: { padding: { left: 549, top: 90, right: 92, bottom: 382 } },
        elements: { point: { radius: 14, hoverRadius: 14, borderWidth: 0, pointStyle: 'circle' } },
        plugins: { legend: { display: false }, tooltip: { enabled: false } },
        scales: {
          x: { type: 'linear', display: false, min: densityRange[0], max: densityRange[1] },
          y: { type: 'linear', display: false, min: energyRange[0], max: energyRange[1] },
        },
      },
      plugins: [axesPlugin],
    });

    return () => {
      if (chartRef.current) {
        chartRef.current.destroy();
        chartRef.current = null;
      }
    };
  }, []);

  return (
    <div style={{ position: 'absolute', left: 0, top: 0, width: 3543, height: 2834, background: '#fff' }}>
      <canvas ref={canvasRef} />
    </div>
  );
}
